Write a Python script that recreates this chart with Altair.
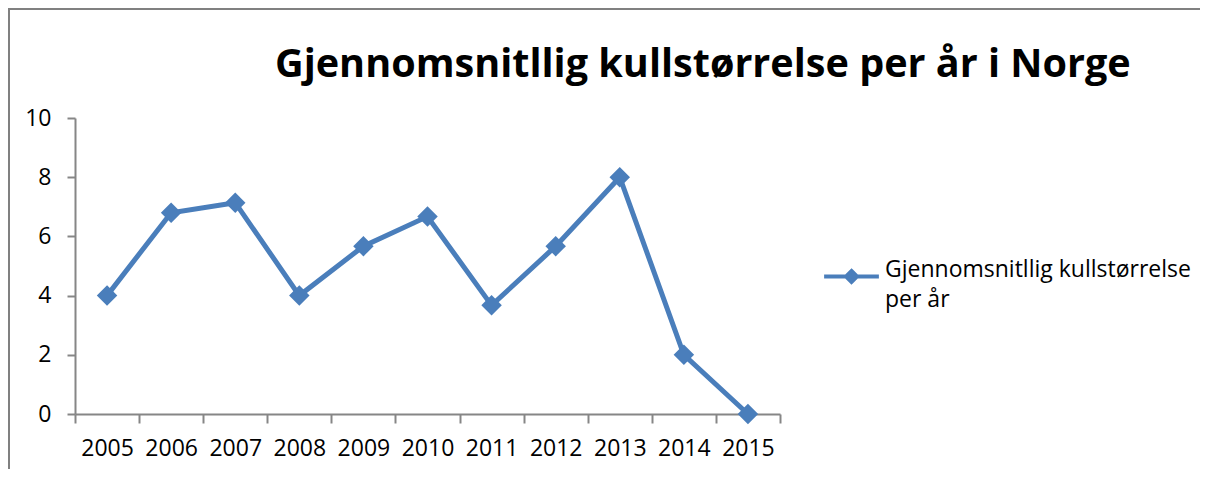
import altair as alt
import pandas as pd

years = ["2005", "2006", "2007", "2008", "2009", "2010", "2011", "2012", "2013", "2014", "2015"]
values = [4, 6.8, 7.14, 4, 5.67, 6.67, 3.67, 5.67, 8, 2, 0]
series_name = "Gjennomsnitllig kullstørrelse\nper år"
title_text = "Gjennomsnitllig kullstørrelse per år i Norge"
y_ticks = [0, 2, 4, 6, 8, 10]

df = pd.DataFrame({"year": years, "value": values, "series": series_name})
title_df = pd.DataFrame({"title": [title_text]})

blue = "#4A7EBB"
gray = "#868686"
font = "Open Sans"
fs = 23

x_enc = alt.X(
    "year:O",
    scale=alt.Scale(type="band", paddingInner=0, paddingOuter=0),
    bandPosition=0.5,
    axis=alt.Axis(
        title=None, tickBand="extent", labelAngle=0, labelFontSize=fs, labelFont=font,
        labelColor="black", labelPadding=14, tickSize=9, tickColor=gray, tickWidth=2,
        domainColor=gray, domainWidth=2,
    ),
)
y_enc = alt.Y(
    "value:Q",
    scale=alt.Scale(domain=[0, 10], nice=False),
    axis=alt.Axis(
        title=None, values=y_ticks, grid=False, tickSize=8, tickColor=gray, tickWidth=2,
        domainColor=gray, domainWidth=2, labelFontSize=fs, labelFont=font,
        labelColor="black", labelPadding=16,
    ),
)
color_enc = alt.Color(
    "series:N",
    scale=alt.Scale(range=[blue]),
    legend=alt.Legend(
        title=None, orient="none", legendX=747, legendY=129,
        symbolType="M-1,0H1M0,-0.2L0.2,0L0,0.2L-0.2,0Z",
        symbolSize=3000, symbolStrokeWidth=4, symbolFillColor=blue, symbolStrokeColor=blue,
        labelExpr="split(datum.label, '\\n')", labelFontSize=fs, labelFont=font,
        labelColor="black", labelBaseline="alphabetic", labelLimit=400, labelOffset=4,
    ),
)

frame_left = alt.Chart(title_df).mark_rule(color="#808080", strokeWidth=2).encode(
    x=alt.value(-66), y=alt.value(-109), y2=alt.value(400)
)
frame_top = alt.Chart(title_df).mark_rule(color="#808080", strokeWidth=2).encode(
    x=alt.value(-67), x2=alt.value(1125), y=alt.value(-109)
)
title = alt.Chart(title_df).mark_text(
    font=font, fontSize=39.6, fontWeight="bold", color="black", align="left", baseline="alphabetic"
).encode(text="title:N", x=alt.value(200), y=alt.value(-41))

line = alt.Chart(df).mark_line(strokeWidth=5).encode(x=x_enc, y=y_enc, color=color_enc)
pts = alt.Chart(df).mark_point(shape="diamond", filled=True, size=420, opacity=1).encode(
    x=x_enc, y=y_enc, color=alt.Color("series:N", scale=alt.Scale(range=[blue]), legend=None)
)

chart = (
    alt.layer(frame_left, frame_top, title, line, pts)
    .properties(
        width=705,
        height=296,
        autosize=alt.AutoSizeParams(type="none"),
        padding={"left": 67, "top": 110, "right": 420, "bottom": 55},
        background="white",
    )
    .configure(style={"guide-label": {"lineHeight": 30}}, view=alt.ViewConfig(stroke=None))
)

chart.save("out.html", embed_options={"renderer": "svg", "actions": False})
